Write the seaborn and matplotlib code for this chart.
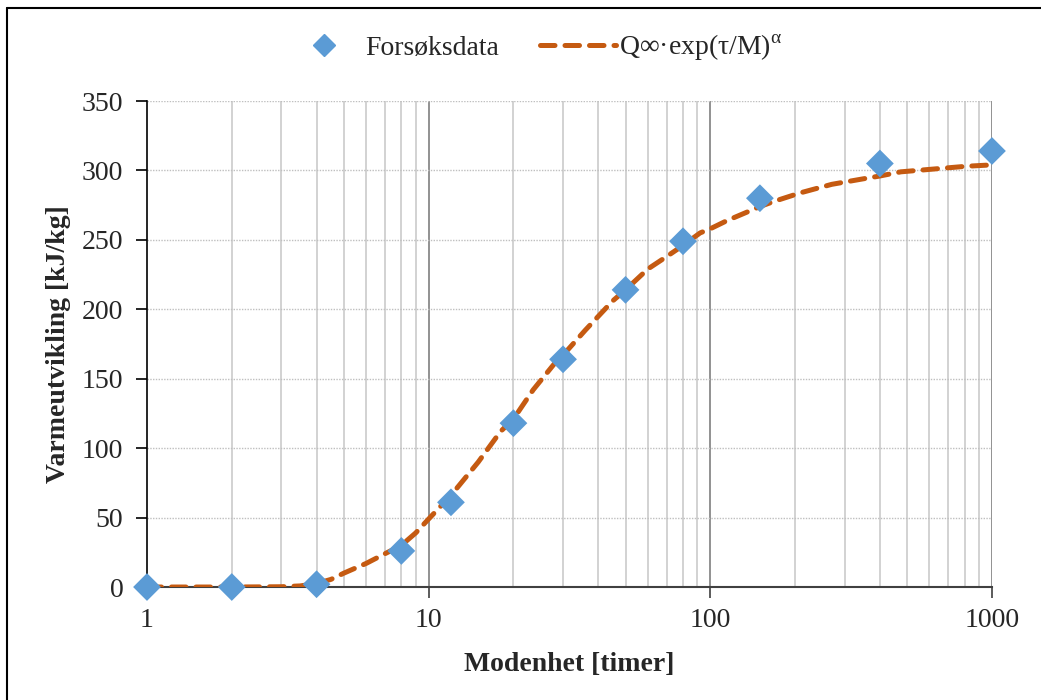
import matplotlib
matplotlib.use("Agg")
import matplotlib.pyplot as plt
import seaborn as sns
import pandas as pd
from matplotlib.lines import Line2D
from matplotlib.ticker import FixedLocator, NullFormatter

# Measured data (Forsøksdata)
maturity = [1, 2, 4, 8, 12, 20, 30, 50, 80, 150, 400, 1000]
heat = [0, 0, 2, 26, 61, 118, 164, 214, 249, 280, 305, 314]

# Fitted curve
curve_m = [1, 2, 3, 3.5, 4, 4.5, 5, 6, 7, 8, 9, 10, 12, 15, 18, 20, 23.5, 28, 30,
           36, 45, 50, 60, 70, 80, 92, 100, 115, 135, 150, 170, 210, 270, 350,
           400, 475, 620, 810, 1000]
curve_q = [0, 0, 0.2, 0.8, 2.5, 5.5, 10, 17, 24, 30, 39, 49, 66, 90, 112, 121, 142,
           161, 167, 185, 206, 214, 229, 238, 246, 255, 258, 264, 270, 274, 278,
           284, 290, 294, 296, 299, 301, 303, 304]

x_ticks = [1, 10, 100, 1000]
x_tick_labels = ["1", "10", "100", "1000"]
y_ticks = [0, 50, 100, 150, 200, 250, 300, 350]

legend_labels = ["Forsøksdata", "Q∞·exp(τ/M)$^{\\mathregular{α}}$"]

sns.set_theme(style="white")
plt.rcParams["font.family"] = ["Liberation Serif", "DejaVu Serif"]
plt.rcParams["mathtext.fontset"] = "custom"
plt.rcParams["mathtext.rm"] = "Liberation Serif"

fig = plt.figure(figsize=(10.41, 7.0), dpi=100)
ax = fig.add_axes([0.1412, 0.1614, 0.9529 - 0.1412, 0.8557 - 0.1614])

pts = pd.DataFrame({"M": maturity, "Q": heat})
crv = pd.DataFrame({"M": curve_m, "Q": curve_q})

orange = "#C55A11"
blue = "#5B9BD5"
dash = (0, (2.9, 2.0))

sns.lineplot(data=crv, x="M", y="Q", ax=ax, color=orange, lw=3.6,
             linestyle=dash, dash_capstyle="round", zorder=3)
sns.scatterplot(data=pts, x="M", y="Q", ax=ax, marker="D", s=200,
                color=blue, edgecolor="none", zorder=4, clip_on=False)

ax.set_xscale("log")
ax.set_xlim(1, 1000)
ax.set_ylim(0, 350)

# grid
minor = [k * 10 ** e for e in range(0, 3) for k in range(2, 10)]
for m in minor:
    ax.axvline(m, color="#CFCFCF", lw=1.3, zorder=1)
for m in [10, 100, 1000]:
    ax.axvline(m, color="#7F7F7F", lw=1.2, zorder=1)
for y in y_ticks[1:]:
    ax.axhline(y, color="#BFBFBF", lw=1.0, linestyle=(0, (1, 1)), zorder=1)

ax.xaxis.set_major_locator(FixedLocator(x_ticks))
ax.set_xticklabels(x_tick_labels)
ax.xaxis.set_minor_locator(FixedLocator([]))
ax.xaxis.set_minor_formatter(NullFormatter())
ax.set_yticks(y_ticks)

for side in ["top", "right"]:
    ax.spines[side].set_visible(False)
ax.spines["left"].set_color("black")
ax.spines["left"].set_linewidth(1.2)
ax.spines["bottom"].set_color("#404040")
ax.spines["bottom"].set_linewidth(1.5)

ax.tick_params(axis="y", which="major", direction="out", length=8, width=1.2,
               color="black", labelsize=20, pad=9, left=True)
ax.tick_params(axis="x", which="major", direction="out", length=8, width=1.2,
               color="#404040", labelsize=20, pad=7, bottom=True)

ax.set_xlabel("Modenhet [timer]", fontsize=20, fontweight="bold", labelpad=14)
ax.set_ylabel("Varmeutvikling [kJ/kg]", fontsize=20, fontweight="bold", labelpad=8)

handles = [
    Line2D([], [], marker="D", color=blue, linestyle="none", markersize=11.5),
    Line2D([], [], color=orange, lw=3.6, linestyle=dash, dash_capstyle="round"),
]
fig.legend(handles, legend_labels, loc="center", bbox_to_anchor=(0.513, 0.932),
           ncol=2, frameon=False, fontsize=20, handlelength=2.75,
           columnspacing=1.45, handletextpad=0.1)

# figure border (top and left visible)
fig.add_artist(Line2D([0.0068, 1.0], [0.9886, 0.9886], transform=fig.transFigure,
                      color="black", lw=1.5))
fig.add_artist(Line2D([0.0068, 0.0068], [0.0, 0.9886], transform=fig.transFigure,
                      color="black", lw=1.5))

fig.savefig("out.png", dpi=100)
